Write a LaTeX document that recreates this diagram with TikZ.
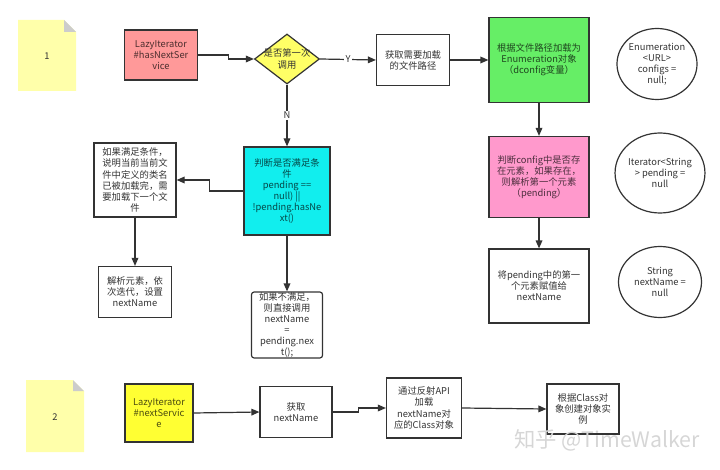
\documentclass[tikz,border=0pt]{standalone}
\usepackage{fontspec}
\setmainfont{Noto Sans CJK SC}
\usepackage{xcolor}
\usetikzlibrary{arrows.meta, shapes.geometric, positioning}
\definecolor{lnclr} {RGB}{ 51, 51, 51}
\definecolor{rfill} {RGB}{255,153,153}
\definecolor{yfill} {RGB}{255,255,102}
\definecolor{gfill} {RGB}{102,238,102}
\definecolor{cfill} {RGB}{ 17,238,238}
\definecolor{pfill} {RGB}{255,153,204}
\definecolor{bfill} {RGB}{255,255, 51}
\definecolor{nfill} {RGB}{255,255,170}
\definecolor{nfold} {RGB}{204,204,204}
\tikzset{
  % Plain step box, width/height in px
  SB/.style 2 args={rectangle,draw=lnclr,fill=white,line width=0.9pt,
             minimum width=#1*0.75pt,minimum height=#2*0.75pt,
             inner sep=0pt,align=center,text=lnclr,
             font=\fontsize{7}{8.3}\selectfont},
  % Filled step box
  FB/.style={fill=#1,text=#1!30!black},
  % Yellow decision diamond
  DC/.style={diamond,draw=lnclr,fill=yfill,line width=0.9pt,
             minimum width=65*0.75pt,minimum height=50*0.75pt,
             inner sep=0pt,text=lnclr,font=\fontsize{7}{8.3}\selectfont},
  % Variable ellipse
  VC/.style 2 args={ellipse,draw=lnclr,line width=0.9pt,
             minimum width=#1*0.75pt,minimum height=#2*0.75pt,
             inner sep=0pt,align=center,text=lnclr,
             font=\fontsize{7}{8.3}\selectfont},
  % Note label
  NL/.style={text=lnclr,font=\fontsize{7}{8.3}\selectfont},
  % Arrows
  Arr/.style={-{Triangle[length=6pt,width=5pt]},line width=0.9pt,color=lnclr},
  Lbl/.style={fill=white,inner sep=1pt,text=lnclr,
              font=\fontsize{7}{8.3}\selectfont},
}
\begin{document}
\begin{tikzpicture}[x=0.75pt,y=-0.75pt]
      \useasboundingbox (0,0) rectangle (720,470);
      % Notes 1 and 2
      \fill[nfill] (18,20) -- (64,20) -- (76,32) -- (76,91) -- (18,91) -- cycle;
      \fill[nfold] (64,20) -- (64,32) -- (76,32) -- cycle;
      \node[NL] at (47,56) (n1) {1};
      \fill[nfill] (26,380) -- (73,380) -- (84,391) -- (84,452) -- (26,452) -- cycle;
      \fill[nfold] (73,380) -- (73,391) -- (84,391) -- cycle;
      \node[NL] at (55,417) (n2) {2};
      % hasNextService row
      \node[SB={73}{50},FB=rfill] at (161,55) (hns)
            {LazyIterator\\\#hasNextSer\\vice};
      \node[DC] at (287,59) (first)
            {\makebox[0pt]{\shortstack{是否第一次\\调用}}};
      \node[SB={73}{51}] at (413,60) (path) {获取需要加载\\的文件路径};
      \node[SB={100}{85},FB=gfill] at (539,60) (load)
            {根据文件路径加载为\\Enumeration对象\\（dconfig变量）};
      \node[SB={100}{81},FB=pfill] at (539,177) (chk)
            {判断config中是否存\\在元素，如果存在，\\则解析第一个元素\\（pending）};
      \node[SB={100}{74}] at (539,286) (asgn)
            {将pending中的第一\\个元素赋值给\\nextName};
      % Variables
      \node[VC={79}{71}] at (657,64) (cfg) {Enumeration\\<URL>\\configs =\\null;};
      \node[VC={83}{80}] at (660,173) (pend) {Iterator<String\\> pending =\\null};
      \node[VC={83}{71}] at (660,282) (nm) {String\\nextName =\\null};
      % N branch
      \node[SB={86}{88},FB=cfill] at (287,191) (cond)
            {判断是否满足条\\件\\pending ==\\null) ||\\!pending.hasNe\\xt()};
      \node[SB={82}{74}] at (135,180) (done)
            {如果满足条件，\\说明当前当前文\\件中定义的类名\\已被加载完，需\\要加载下一个文\\件};
      \node[SB={73}{51}] at (135,292) (parse) {解析元素，依\\次迭代，设置\\nextName};
      \node[SB={71}{66},rounded corners=2pt] at (287,325) (direct)
            {如果不满足，\\则直接调用\\nextName\\=\\pending.nex\\t();};
      % nextService row
      \node[SB={68}{58},FB=bfill] at (159,413) (ns) {LazyIterator\\\#nextServic\\e};
      \node[SB={72}{51}] at (296,412) (getn) {获取\\nextName};
      \node[SB={75}{60}] at (424,408) (refl)
            {通过反射API\\加载\\nextName对\\应的Class对象};
      \node[SB={72}{50}] at (583,409) (inst) {根据Class对\\象创建对象实\\例};
      \node[text=black!16,font=\fontsize{16}{18}\selectfont] at (607,440) (wm)
            {知乎 @TimeWalker};
      % Connectors
      \draw[Arr] (hns.east) -- ++(30,0) |- (first.west);
      \draw[Arr] (first.east) -- node[Lbl] (y) {Y} (path.west);
      \draw[Arr] (path.east) -- (load.west);
      \draw[Arr] (load.south) -- (chk.north);
      \draw[Arr] (chk.south) -- (asgn.north);
      \draw[Arr] (first.south) -- node[Lbl] (n) {N} (cond.north);
      \draw[Arr] (cond.west) -- ++(-34,0) |- (done.east);
      \draw[Arr] (done.south) -- (parse.north);
      \draw[Arr] (cond.south) -- (direct.north);
      \draw[Arr] (ns.east) -- (getn.west);
      \draw[Arr] (getn.east) -- ++(26,0) |- (refl.west);
      \draw[Arr] (refl.east) -- (inst.west);
    \end{tikzpicture}
\end{document}
